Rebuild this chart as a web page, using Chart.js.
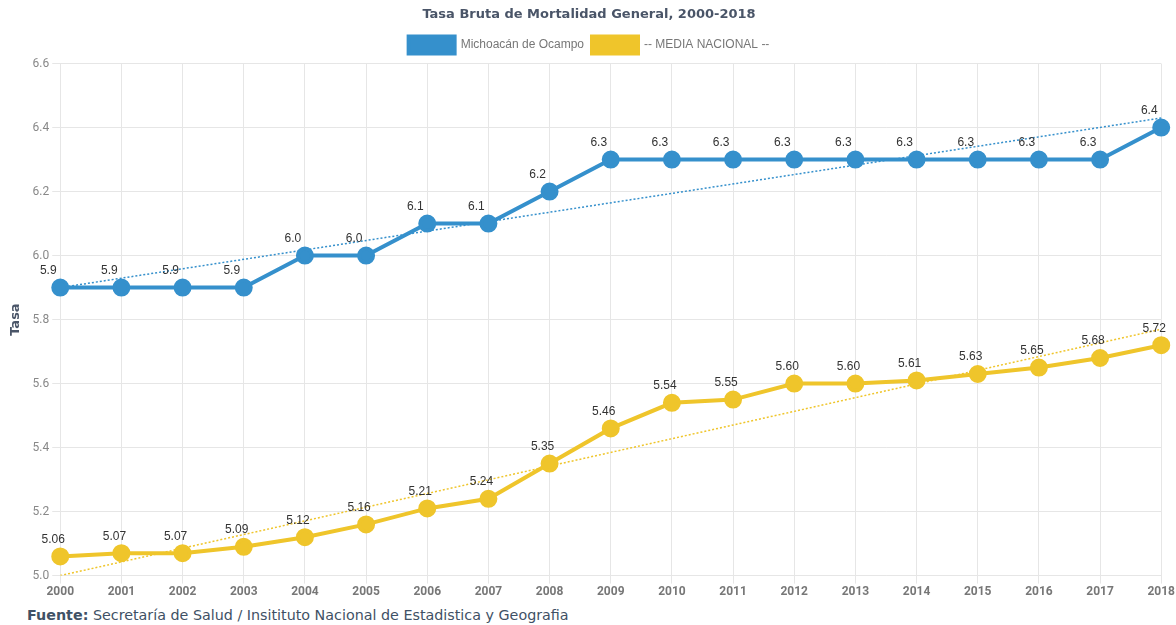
<!DOCTYPE html>
<html>
<head>
<meta charset="utf-8">
<script src="https://cdn.jsdelivr.net/npm/chart.js@4.4.0/dist/chart.umd.min.js"></script>
<style>
    body { margin: 0; background: #fff; }
    #wrap { position: relative; width: 1176px; height: 600px; }
    #fuente {
        font-family: 'DejaVu Sans', sans-serif;
        font-size: 14.3px;
        color: #3f5165;
        margin: 5px 0 0 27px;
        line-height: 20px;
    }
    #fuente b { font-weight: 700; }
</style>
</head>
<body>
<div id="wrap"><canvas id="chart"></canvas></div>
<p id="fuente"><b>Fuente:</b> Secretaría de Salud / Insitituto Nacional de Estadistica y Geografia</p>
<script>
// Data
const years = ['2000', '2001', '2002', '2003', '2004', '2005', '2006', '2007', '2008', '2009',
               '2010', '2011', '2012', '2013', '2014', '2015', '2016', '2017', '2018'];
const michoacan = [5.9, 5.9, 5.9, 5.9, 6.0, 6.0, 6.1, 6.1, 6.2, 6.3,
                   6.3, 6.3, 6.3, 6.3, 6.3, 6.3, 6.3, 6.3, 6.4];
const nacional = [5.06, 5.07, 5.07, 5.09, 5.12, 5.16, 5.21, 5.24, 5.35, 5.46,
                  5.54, 5.55, 5.60, 5.60, 5.61, 5.63, 5.65, 5.68, 5.72];
// trend line ends (first year, last year)
const michoacanTrend = [5.9, 6.43];
const nacionalTrend = [5.0, 5.77];

const BLUE = '#3590cc';
const YELLOW = '#efc52b';

function trendSeries(ends) {
    const arr = years.map(() => null);
    arr[0] = ends[0];
    arr[arr.length - 1] = ends[1];
    return arr;
}

// Value labels above each point
const valueLabels = {
    id: 'valueLabels',
    afterDatasetsDraw(chart) {
        const ctx = chart.ctx;
        ctx.save();
        ctx.font = '12px "Liberation Sans", Arial, sans-serif';
        ctx.fillStyle = '#333';
        ctx.textAlign = 'center';
        ctx.textBaseline = 'middle';
        chart.data.datasets.forEach((ds, i) => {
            if (!ds.labelDigits) return;
            const meta = chart.getDatasetMeta(i);
            meta.data.forEach((pt, j) => {
                ctx.fillText(ds.data[j].toFixed(ds.labelDigits), pt.x + ds.labelShift, pt.y - 17);
            });
        });
        ctx.restore();
    }
};

const ctx = document.getElementById('chart').getContext('2d');
new Chart(ctx, {
    type: 'line',
    data: {
        labels: years,
        datasets: [{
            label: 'Michoacán de Ocampo',
            data: michoacan,
            borderColor: BLUE,
            backgroundColor: BLUE,
            borderWidth: 4,
            pointRadius: 7,
            pointHoverRadius: 7,
            tension: 0,
            labelDigits: 1,
            labelShift: -12,
            order: 1
        }, {
            label: '-- MEDIA NACIONAL --',
            data: nacional,
            borderColor: YELLOW,
            backgroundColor: YELLOW,
            borderWidth: 4,
            pointRadius: 7,
            pointHoverRadius: 7,
            tension: 0,
            labelDigits: 2,
            labelShift: -7,
            order: 2
        }, {
            label: 'trend1',
            data: trendSeries(michoacanTrend),
            borderColor: BLUE,
            borderWidth: 1.5,
            borderDash: [2, 2],
            pointRadius: 0,
            spanGaps: true,
            order: 3
        }, {
            label: 'trend2',
            data: trendSeries(nacionalTrend),
            borderColor: YELLOW,
            borderWidth: 1.5,
            borderDash: [2, 2],
            pointRadius: 0,
            spanGaps: true,
            order: 4
        }]
    },
    options: {
        responsive: true,
        maintainAspectRatio: false,
        animation: false,
        layout: { padding: { top: 3, right: 6, left: 8, bottom: 0 } },
        plugins: {
            title: {
                display: true,
                text: 'Tasa Bruta de Mortalidad General, 2000-2018',
                color: '#4a5568',
                font: { family: '"DejaVu Sans"', size: 13, weight: 'bold' },
                padding: { top: 4, bottom: 6 }
            },
            legend: {
                labels: {
                    filter: item => item.datasetIndex < 2,
                    boxWidth: 46,
                    boxHeight: 17,
                    color: '#777',
                    font: { family: '"Liberation Sans", Arial', size: 12 },
                    padding: 8
                }
            },
            tooltip: { enabled: false }
        },
        scales: {
            x: {
                grid: { color: '#e6e6e6' },
                border: { color: '#e6e6e6' },
                ticks: {
                    color: '#777',
                    font: { family: 'Roboto', size: 12, weight: 'bold' },
                    maxRotation: 0,
                    padding: 1
                }
            },
            y: {
                min: 5.0,
                max: 6.6,
                grid: { color: '#e6e6e6' },
                border: { color: '#e6e6e6' },
                title: {
                    display: true,
                    text: 'Tasa',
                    color: '#4a5568',
                    font: { family: '"DejaVu Sans"', size: 13, weight: 'bold' },
                    padding: { top: 0, bottom: 6 }
                },
                ticks: {
                    stepSize: 0.2,
                    color: '#888',
                    font: { family: 'Roboto', size: 12 },
                    callback: v => v.toFixed(1)
                }
            }
        }
    },
    plugins: [valueLabels]
});
</script>
</body>
</html>
